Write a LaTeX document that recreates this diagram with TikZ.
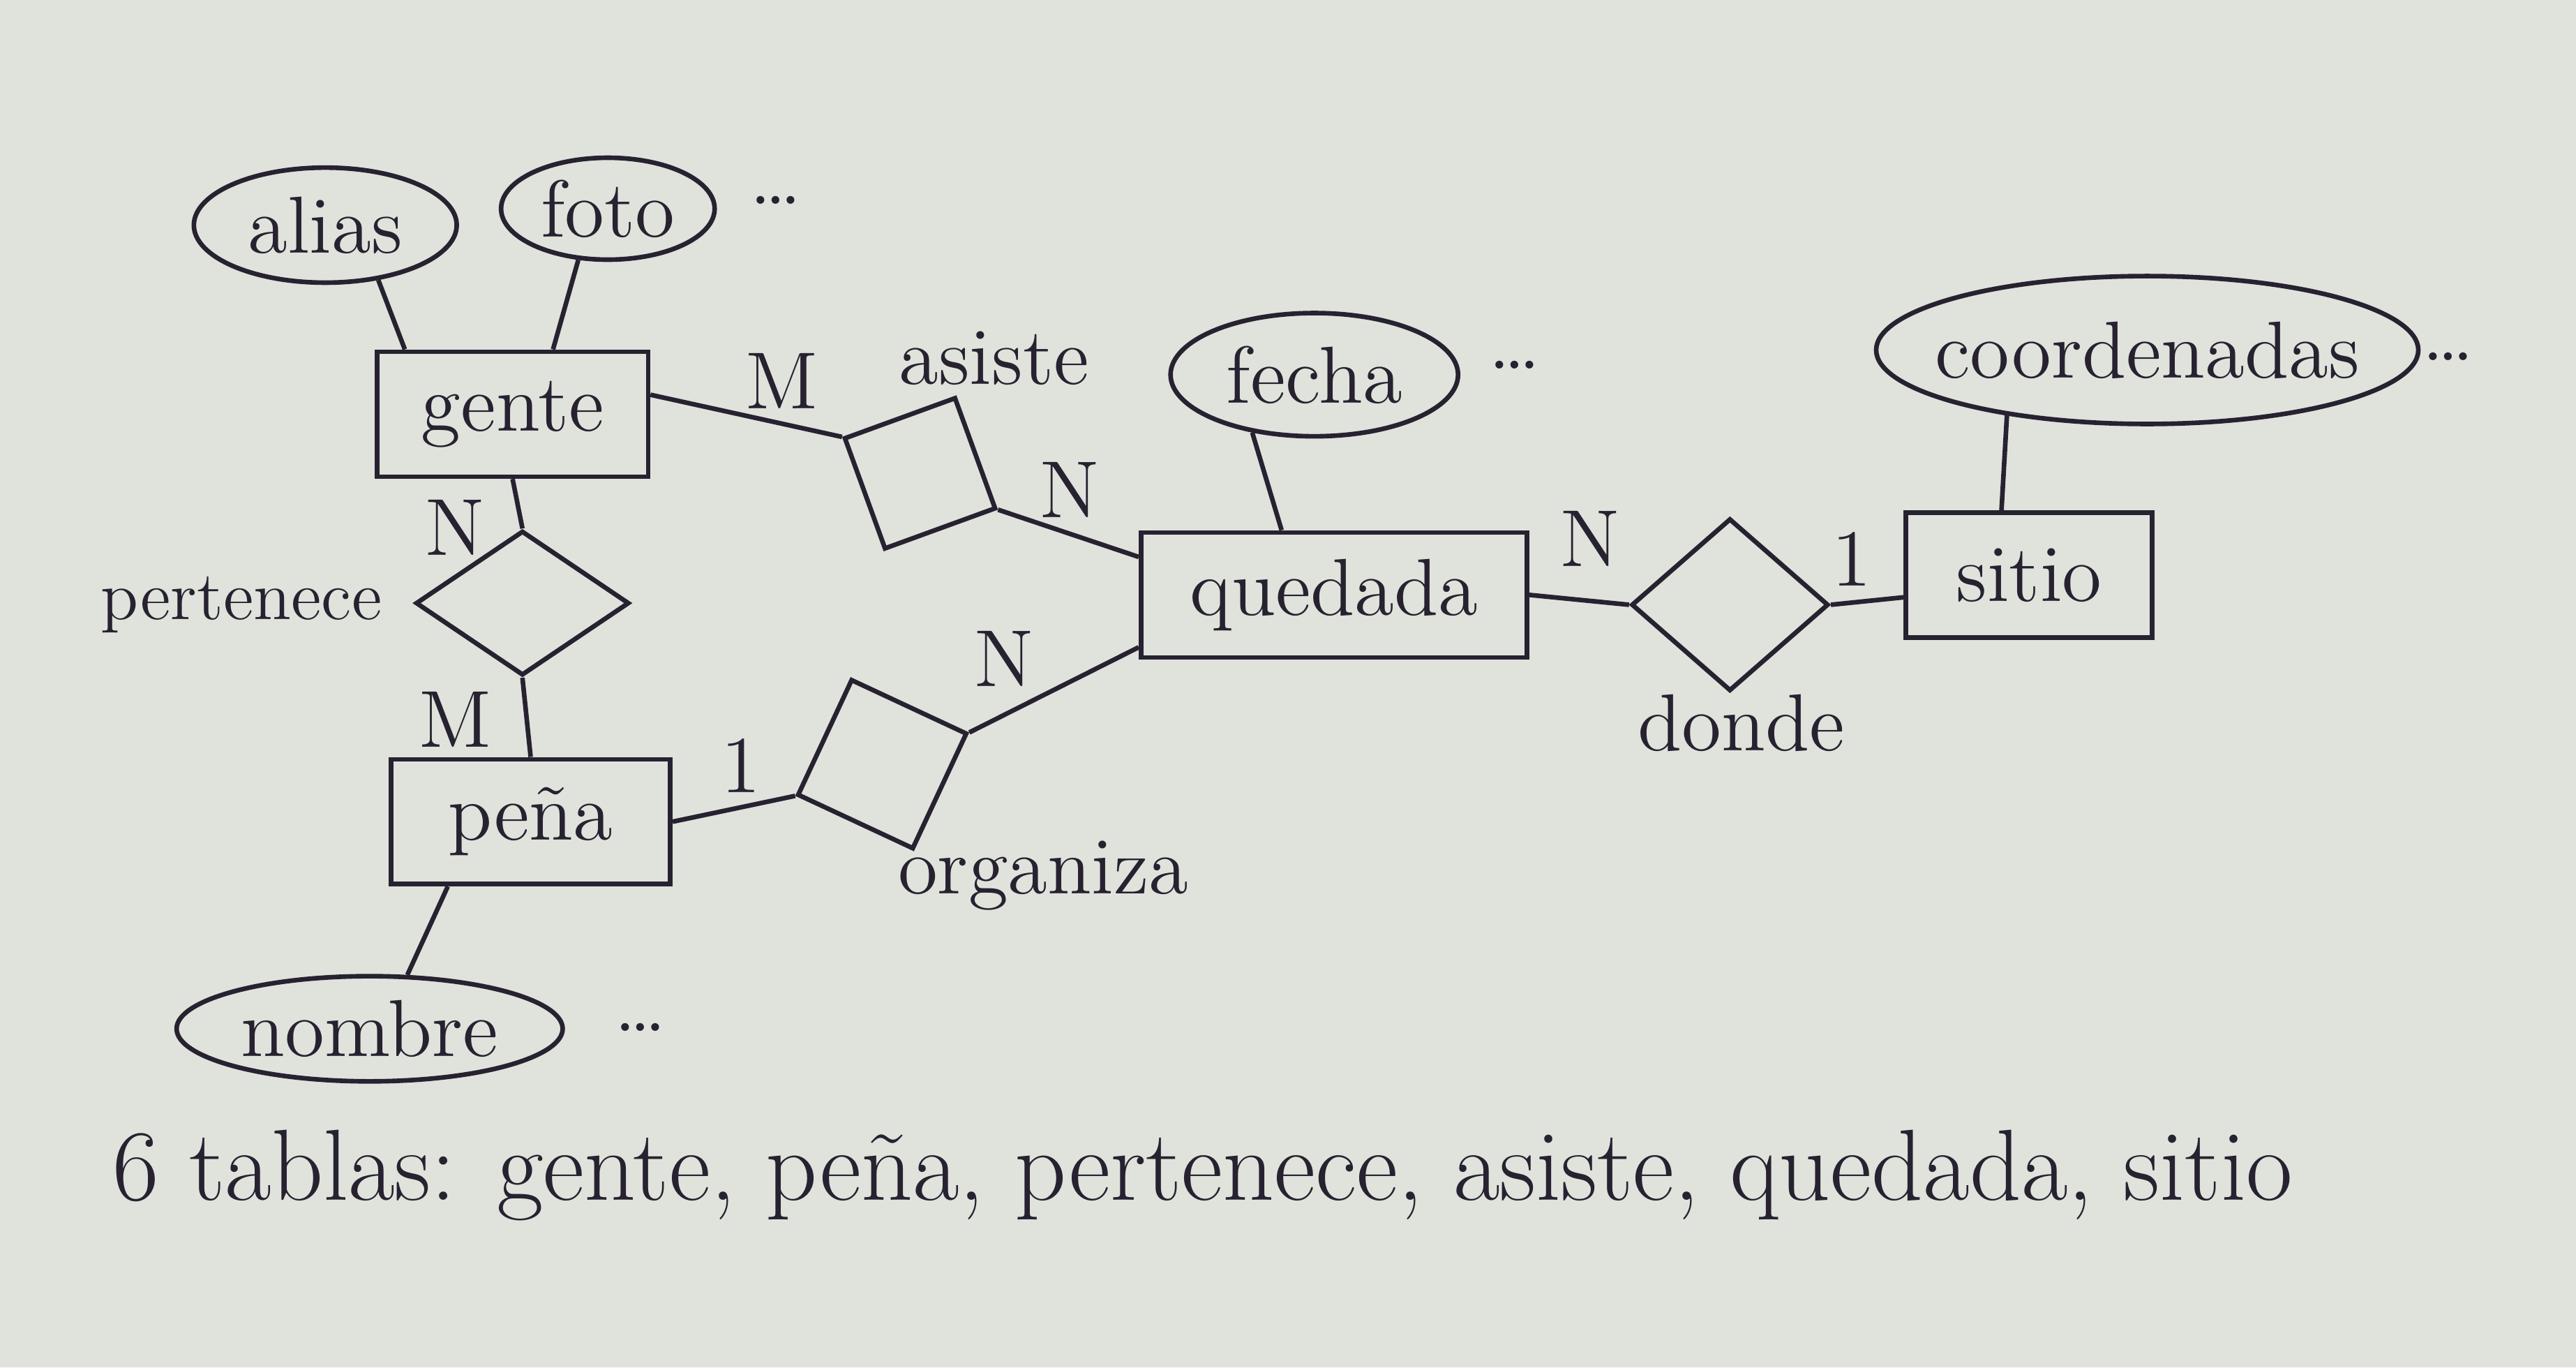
\documentclass[tikz,border=0pt]{standalone}
\usepackage{fontspec}
\usetikzlibrary{shapes.geometric}
\definecolor{paper}{RGB}{224,226,220}
\definecolor{ink}{RGB}{38,34,48}
\begin{document}
\begin{tikzpicture}[
  font=\fontsize{14}{16}\selectfont,
  every node/.style={text=ink},
  entity/.style={draw=ink, line width=0.8pt, minimum height=7.6mm},
  attr/.style={draw=ink, line width=0.8pt, ellipse, inner sep=0pt},
  relation/.style={draw=ink, line width=0.8pt, diamond, inner sep=0pt},
  link/.style={draw=ink, line width=0.8pt}
]
\fill[paper] (0,0) rectangle (15.68,-8.32);
\useasboundingbox (0,0) rectangle (15.68,-8.32);

\node[entity, minimum width=16.5mm] (gente) at (3.12,-2.52) {gente};
\node[entity, minimum width=23.5mm] (quedada) at (8.12,-3.62) {quedada};
\node[entity, minimum width=15mm] (sitio) at (12.35,-3.50) {sitio};
\node[entity, minimum width=17mm] (pena) at (3.23,-5.00) {peña};

\node[attr, minimum width=16mm, minimum height=7mm] (alias) at (1.98,-1.37) {alias};
\node[attr, minimum width=13mm, minimum height=6.2mm] (foto) at (3.70,-1.27) {foto};
\node[attr, minimum width=17.5mm, minimum height=7.5mm] (fecha) at (8.00,-2.28) {fecha};
\node[attr, minimum width=33mm, minimum height=9mm, inner xsep=-2.5mm] (coord) at (13.07,-2.13) {coordenadas};
\node[attr, minimum width=23.5mm, minimum height=6.4mm] (nombre) at (2.25,-6.26) {nombre};

\node[relation, minimum size=10.2mm, rotate=-25] (asiste) at (5.60,-2.88) {};
\node[relation, minimum width=13mm, minimum height=8.8mm] (pertenece) at (3.18,-3.67) {};
\node[relation, minimum width=12mm, minimum height=10.5mm] (donde) at (10.53,-3.68) {};
\node[relation, minimum size=11mm, rotate=20] (organiza) at (5.37,-4.65) {};

\node (asisteL) at (6.05,-2.18) {asiste};
\node[font=\fontsize{12}{14}\selectfont] (perteneceL) at (1.47,-3.68) {pertenece};
\node (dondeL) at (10.60,-4.40) {donde};
\node (organizaL) at (6.35,-5.33) {organiza};

\node (gM) at (4.76,-2.32) {M};
\node (qN1) at (6.51,-2.98) {N};
\node (qN2) at (9.68,-3.28) {N};
\node (s1) at (11.27,-3.40) {1};
\node (gN) at (2.77,-3.21) {N};
\node (pM) at (2.77,-4.38) {M};
\node (p1) at (4.51,-4.66) {1};
\node (qN3) at (6.11,-4.01) {N};

\node (dotsfoto) at (4.72,-1.22) {\dots};
\node (dotsfecha) at (9.22,-2.22) {\dots};
\node (dotscoord) at (14.90,-2.17) {\dots};
\node (dotsnombre) at (3.90,-6.25) {\dots};

\draw[link] (alias.-46) -- (gente.149);
\draw[link] (foto.240) -- (gente.58);
\draw[link] (gente.8) -- (asiste.west);
\draw[link] (asiste.east) -- (quedada.169);
\draw[link] (fecha.223) -- (quedada.129);
\draw[link] (coord.205) -- (sitio.113);
\draw[link] (quedada.east) -- (donde.west);
\draw[link] (donde.east) -- (sitio.190);
\draw[link] (gente.south) -- (pertenece.north);
\draw[link] (pertenece.south) -- (pena.north);
\draw[link] (pena.218) -- (nombre.55);
\draw[link] (pena.east) -- (organiza.west);
\draw[link] (organiza.east) -- (quedada.195);

\node[font=\fontsize{17.5}{20}\selectfont] (tablas) at (7.32,-7.15) {6 tablas: gente, peña, pertenece, asiste, quedada, sitio};
\end{tikzpicture}
\end{document}
